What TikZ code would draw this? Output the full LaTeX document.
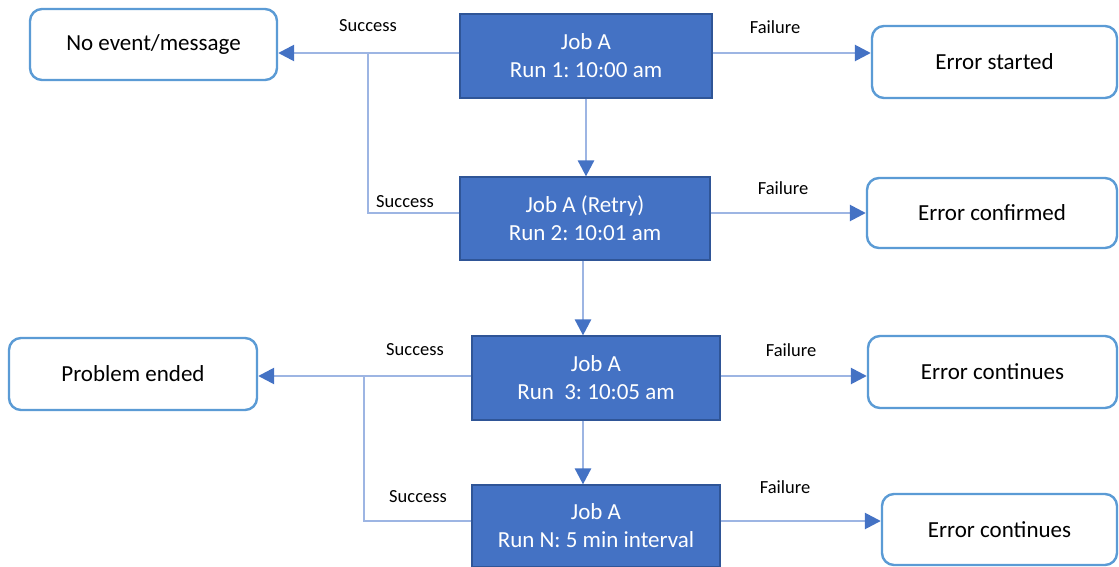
\documentclass[tikz,border=0pt]{standalone}
\usepackage{fontspec}
\setmainfont{Carlito}
\usetikzlibrary{arrows.meta,calc}
\definecolor{jobfill}{HTML}{4472C4}
\definecolor{jobdraw}{HTML}{2F5597}
\definecolor{outdraw}{HTML}{5B9BD5}
\definecolor{linec}{HTML}{9DB5E3}
\definecolor{tipc}{HTML}{4472C4}
\frenchspacing
\begin{document}
\begin{tikzpicture}[x=1pt,y=-1pt,
  job/.style={draw=jobdraw, fill=jobfill, line width=1.2pt, text=white, align=center, inner sep=0pt, font=\fontsize{23}{28}\selectfont},
  outcome/.style={draw=outdraw, rounded corners=12pt, line width=2.4pt, fill=white, align=center, inner sep=0pt, font=\fontsize{23}{28}\selectfont},
  conn/.style={draw=linec, line width=2.6pt},
  arr/.style={conn, -{Triangle[length=16pt,width=16pt,color=tipc,fill=tipc]}},
  lbl/.style={font=\fontsize{18.5}{22}\selectfont, inner sep=0pt}
]
\useasboundingbox (0,0) rectangle (1119,567);

% job boxes
\node[job, minimum width=252pt, minimum height=84pt] (r1) at (586,56) {Job A\\Run 1: 10:00 am};
\node[job, minimum width=250pt, minimum height=83pt] (r2) at (585,218.5) {Job A (Retry)\\Run 2: 10:01 am};
\node[job, minimum width=248pt, minimum height=84pt] (r3) at (596,378) {Job A\\Run~~3: 10:05 am};
\node[job, minimum width=248pt, minimum height=82pt] (rN) at (596,526) {Job A\\Run N: 5 min interval};

% outcome boxes
\node[outcome, minimum width=247pt, minimum height=71pt] (ne) at (153.5,44.5) {No event/message};
\node[outcome, minimum width=248pt, minimum height=72pt] (pe) at (133,374) {Problem ended};
\node[outcome, minimum width=245pt, minimum height=72pt] (es) at (994.5,62) {Error started};
\node[outcome, minimum width=250pt, minimum height=70pt] (ec) at (992,213) {Error confirmed};
\node[outcome, minimum width=249pt, minimum height=72pt] (c3) at (992.5,372) {Error continues};
\node[outcome, minimum width=235pt, minimum height=71pt] (cN) at (999.5,529.5) {Error continues};

% helper coordinates
\coordinate (j1) at (368,53);
\coordinate (j1b) at (368,213);
\coordinate (j2) at (364,376);
\coordinate (j2b) at (364,521);
\coordinate (vx) at (583,0);

% success paths
\draw[arr] (r1.west |- j1) -- (ne.east |- j1);
\draw[conn] (r2.west |- j1b) -- (j1b) -- (j1);
\draw[arr] (r3.west |- j2) -- (pe.east |- j2);
\draw[conn] (rN.west |- j2b) -- (j2b) -- (j2);

% failure paths
\draw[arr] (r1.east |- j1) -- (es.west |- j1);
\draw[arr] (r2.east |- j1b) -- (ec.west |- j1b);
\draw[arr] (r3.east |- j2) -- (c3.west |- j2);
\draw[arr] (rN.east |- j2b) -- (cN.west |- j2b);

% sequence
\draw[arr] (r1.south) -- (r1.south |- r2.north);
\draw[arr] (vx |- r2.south) -- (vx |- r3.north);
\draw[arr] (vx |- r3.south) -- (vx |- rN.north);

% labels
\node[lbl] (s1) at (368,26) {Success};
\node[lbl] (s2) at (405,202) {Success};
\node[lbl] (s3) at (415,350) {Success};
\node[lbl] (s4) at (418,497) {Success};
\node[lbl] (f1) at (775,27) {Failure};
\node[lbl] (f2) at (783,188) {Failure};
\node[lbl] (f3) at (791,350) {Failure};
\node[lbl] (f4) at (785,487) {Failure};
\end{tikzpicture}
\end{document}
